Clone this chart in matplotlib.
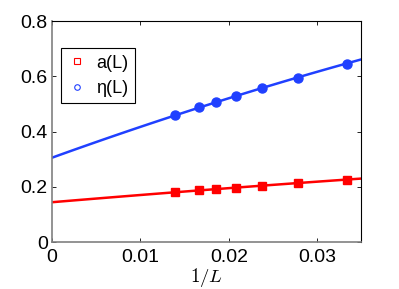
import numpy as np
import matplotlib
matplotlib.use("Agg")
import matplotlib.pyplot as plt

# 1/L for L = 72, 60, 54, 48, 42, 36, 30
inv_L = [1/72, 1/60, 1/54, 1/48, 1/42, 1/36, 1/30]
a_L = [0.180, 0.187, 0.191, 0.197, 0.204, 0.214, 0.226]
eta_L = [0.458, 0.488, 0.506, 0.527, 0.558, 0.595, 0.646]
eta_err = [0.004, 0.004, 0.004, 0.004, 0.005, 0.005, 0.009]

# fit coefficients c0 + c1*x + c2*x^2
a_fit = [0.144, 2.68, -6.6]
eta_fit = [0.305, 11.56, -39.5]

red = '#ff0000'
blue = '#2040ff'

plt.rcParams['font.family'] = ['Liberation Sans', 'DejaVu Sans']
plt.rcParams['mathtext.fontset'] = 'cm'

fig = plt.figure(figsize=(3.99, 2.89), dpi=100)
ax = fig.add_axes([0.130, 0.1626, 0.776, 0.7647])

xx = np.linspace(0, 0.035, 100)
ax.plot(xx, np.polyval(a_fit[::-1], xx), color=red, lw=1.8)
ax.plot(xx, np.polyval(eta_fit[::-1], xx), color=blue, lw=1.8)
ax.plot(inv_L, a_L, 's', color=red, ms=5.5)
ax.errorbar(inv_L, eta_L, yerr=eta_err, fmt='o', color=blue, ms=6.5, elinewidth=1.2, capsize=0)

# legend with open markers only
ax.plot([], [], 's', mfc='none', mec=red, ms=4, mew=0.8, label='a(L)')
ax.plot([], [], 'o', mfc='none', mec=blue, ms=4, mew=0.8, label='η(L)')
leg = ax.legend(loc='upper left', bbox_to_anchor=(0.03, 0.876), fontsize=13,
                fancybox=False, edgecolor='black', framealpha=1, borderpad=0.35,
                handlelength=1.05, handletextpad=0.55, labelspacing=0.45,
                borderaxespad=0)
leg.get_frame().set_linewidth(0.8)

ax.set_xlim(0, 0.035)
ax.set_ylim(0, 0.8)
ax.set_xticks([0, 0.01, 0.02, 0.03])
ax.set_xticklabels(['0', '0.01', '0.02', '0.03'])
ax.set_yticks([0, 0.2, 0.4, 0.6, 0.8])
ax.set_yticklabels(['0', '0.2', '0.4', '0.6', '0.8'])
ax.tick_params(direction='in', length=3, width=0.6, labelsize=14, top=True, right=True)
ax.tick_params(axis='x', pad=5)
ax.tick_params(axis='y', pad=3)
for s in ['left', 'bottom']:
    ax.spines[s].set_color('#808080')
    ax.spines[s].set_linewidth(1.2)
for s in ['top', 'right']:
    ax.spines[s].set_linewidth(0.8)
ax.set_xlabel('$1/L$', fontsize=13.5, labelpad=0)

fig.savefig('out.png', dpi=100)
